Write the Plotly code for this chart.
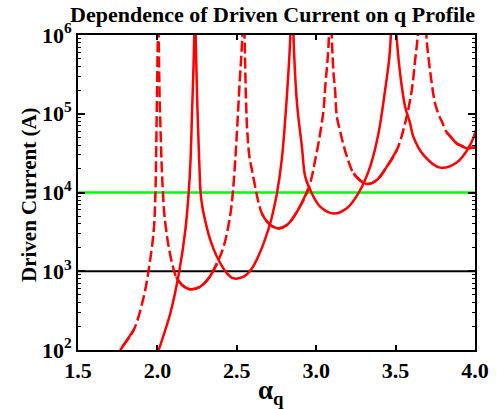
import math
import plotly.graph_objects as go

# ---------------- data ----------------
# dashed family (resonances near 2.0, 2.54, 3.09, 3.67)
d0_alpha = [1.740, 1.767, 1.851, 1.914, 1.945, 1.977, 1.987, 1.993, 1.998, 2.002, 2.005]
d0_curr = [75, 100, 180, 475, 1040, 3300, 9000, 4.0e4, 2.0e5, 8.0e5, 3e6]

d1_alpha = [2.007, 2.010, 2.014, 2.020, 2.027, 2.035, 2.045, 2.071, 2.103, 2.118, 2.155, 2.208,
            2.270, 2.323, 2.375, 2.417, 2.459, 2.475, 2.488, 2.499, 2.518, 2.533, 2.541]
d1_curr = [2e6, 5e5, 1.6e5, 6e4, 2.2e4, 1.0e4, 5.0e3, 2050, 1040, 850, 670, 590,
           637, 813, 1260, 2050, 5200, 1.0e4, 2.2e4, 5.0e4, 2.5e5, 8.0e5, 3e6]

d2_alpha = [2.544, 2.551, 2.558, 2.566, 2.580, 2.596, 2.620, 2.638, 2.658, 2.685, 2.711, 2.763,
            2.816, 2.879, 2.952, 2.994, 3.025, 3.046, 3.057, 3.077, 3.086]
d2_curr = [3e6, 6e5, 1.5e5, 6e4, 2.8e4, 1.9e4, 1.07e4, 7.3e3, 5.4e3, 4.4e3, 3.86e3, 3.5e3,
           3.86e3, 5.7e3, 1.13e4, 2.6e4, 5.65e4, 1.1e5, 2.2e5, 7e5, 3e6]

d3_alpha = [3.092, 3.099, 3.109, 3.119, 3.130, 3.151, 3.172, 3.200, 3.235, 3.297, 3.329, 3.382,
            3.445, 3.508, 3.560, 3.602, 3.623, 3.637, 3.650]
d3_curr = [3e6, 8.6e5, 3.3e5, 2.0e5, 9.2e4, 6.0e4, 4.0e4, 2.6e4, 1.75e4, 1.33e4, 1.28e4, 1.44e4,
           2.13e4, 3.47e4, 7.6e4, 2.0e5, 4.8e5, 8.6e5, 3e6]

d4_alpha = [3.683, 3.696, 3.728, 3.748, 3.769, 3.792, 3.822, 3.843, 3.885, 3.906, 3.948, 3.969, 4.011]
d4_curr = [3e6, 8.6e5, 2.4e5, 1.37e5, 1.0e5, 7.9e4, 5.8e4, 5.2e4, 4.2e4, 4.0e4, 3.64e4, 3.67e4, 3.75e4]

# solid family (resonances near 2.235, 2.847, 3.485)
s0_alpha = [1.990, 2.008, 2.082, 2.138, 2.176, 2.197, 2.208, 2.218, 2.228, 2.234, 2.237]
s0_curr = [78, 100, 295, 1006, 3340, 9.9e3, 2.37e4, 1.02e5, 4.4e5, 1.5e6, 5e6]

s1_alpha = [2.239, 2.246, 2.252, 2.259, 2.266, 2.272, 2.281, 2.302, 2.333, 2.375, 2.438, 2.480,
            2.543, 2.596, 2.648, 2.711, 2.731, 2.753, 2.784, 2.805, 2.826, 2.837, 2.845]
s1_curr = [1.5e6, 3.5e5, 1.2e5, 4.5e4, 1.8e4, 1.0e4, 7.0e3, 4.3e3, 2.5e3, 1.53e3, 942, 813,
           853, 1090, 1770, 4.1e3, 6.0e3, 9.8e3, 2.7e4, 8.5e4, 3.6e5, 9.5e5, 4e6]

s2_alpha = [2.850, 2.857, 2.879, 2.910, 2.931, 2.962, 3.025, 3.109, 3.193, 3.266, 3.340, 3.392,
            3.434, 3.461, 3.472, 3.480]
s2_curr = [5e6, 9.5e5, 1.36e5, 3.8e4, 1.59e4, 1.08e4, 6.6e3, 5.4e3, 6.3e3, 9.8e3, 2.13e4, 5.6e4,
           2.0e5, 5.3e5, 1.2e6, 5e6]

s3_alpha = [3.490, 3.498, 3.508, 3.528, 3.560, 3.591, 3.612, 3.675, 3.780, 3.885, 3.969, 4.011]
s3_curr = [5e6, 1.8e6, 8.6e5, 3.3e5, 1.23e5, 7.6e4, 5.1e4, 3.0e4, 2.07e4, 2.4e4, 4.0e4, 6.6e4]

# reference levels
level_values = [1e4, 1e3]
level_colors = ['#00ff00', '#000000']

x_ticks = [1.5, 2.0, 2.5, 3.0, 3.5, 4.0]
x_tick_labels = ['1.5', '2.0', '2.5', '3.0', '3.5', '4.0']
y_ticks = [1e2, 1e3, 1e4, 1e5, 1e6]
y_tick_labels = ['10<sup>2</sup>', '10<sup>3</sup>', '10<sup>4</sup>', '10<sup>5</sup>', '10<sup>6</sup>']

# ---------------- figure ----------------
FONT = 'Liberation Serif, Times New Roman, serif'
RED = '#ff0000'
X0, X1 = 1.5, 4.0
W, H = 504, 409
L, R, T, B = 78, 29, 35, 59
PX_PER_X = (W - L - R) / 2.5
PX_PER_DEC = (H - T - B) / 4.0
STEEP = 2.2
LW = 2.5

fig = go.Figure()

for val, col in zip(level_values, level_colors):
    fig.add_trace(go.Scatter(x=[X0, X1], y=[val, val], mode='lines',
                             line=dict(color=col, width=2.5 if col != '#000000' else 2),
                             showlegend=False, hoverinfo='skip'))


def add_line(a, c, dash='solid'):
    fig.add_trace(go.Scatter(x=a, y=c, mode='lines',
                             line=dict(color=RED, width=LW, shape='spline', smoothing=1.0, dash=dash),
                             showlegend=False, hoverinfo='skip'))


def add_dashed(a, c):
    # full dashed path, then solid overlay where the curve is flat
    # (in the reference the dashed curves look solid on their flat parts)
    add_line(a, c, dash='11px,4px')
    n = len(a)
    flat = []
    for k in range(n - 1):
        dx = abs(a[k + 1] - a[k]) * PX_PER_X
        dy = abs(math.log10(c[k + 1]) - math.log10(c[k])) * PX_PER_DEC
        flat.append(dy <= STEEP * dx)
    k = 0
    while k < n - 1:
        if flat[k]:
            j = k
            while j < n - 1 and flat[j]:
                j += 1
            add_line(a[k:j + 1], c[k:j + 1])
            k = j
        else:
            k += 1


for a, c in [(s0_alpha, s0_curr), (s1_alpha, s1_curr), (s2_alpha, s2_curr), (s3_alpha, s3_curr)]:
    add_line(a, c)
for a, c in [(d0_alpha, d0_curr), (d1_alpha, d1_curr), (d2_alpha, d2_curr),
             (d3_alpha, d3_curr), (d4_alpha, d4_curr)]:
    add_dashed(a, c)

pw, ph = W - L - R, H - T - B
fig.update_layout(
    width=W, height=H,
    margin=dict(l=L, r=R, t=T, b=B, autoexpand=False),
    paper_bgcolor='white', plot_bgcolor='white',
    font=dict(family=FONT, color='black'),
    hovermode=False,
    title=dict(text='<b>Dependence of Driven Current on q Profile</b>',
               font=dict(family=FONT, size=22, color='black'),
               x=272.5 / W, xanchor='center', y=1 - 14 / H, yanchor='middle'),
    xaxis=dict(range=[X0, X1], tickvals=x_ticks, ticktext=x_tick_labels,
               ticks='inside', ticklen=5, tickwidth=2, tickcolor='black',
               showline=True, linewidth=2, linecolor='black', mirror='ticks',
               showgrid=False, zeroline=False, automargin=False,
               tickfont=dict(family=FONT, size=22, color='black', weight='bold')),
    yaxis=dict(type='log', range=[2, 6], tickvals=y_ticks, ticktext=y_tick_labels,
               ticks='inside', ticklen=7, tickwidth=2, tickcolor='black',
               minor=dict(ticks='inside', ticklen=3, tickwidth=1, tickcolor='black',
                          dtick='D1', showgrid=False),
               showline=True, linewidth=2, linecolor='black', mirror='ticks',
               showgrid=False, zeroline=False, automargin=False,
               tickfont=dict(family=FONT, size=22, color='black', weight='bold')),
    annotations=[
        dict(text='<b>α<sub>q</sub></b>', xref='paper', yref='paper',
             x=(271 - L) / pw, y=(H - B - 392) / ph, xanchor='center', yanchor='middle',
             showarrow=False, font=dict(family=FONT, size=27, color='black')),
        dict(text='<b>Driven Current (A)</b>', xref='paper', yref='paper', textangle=-90,
             x=(29 - L) / pw, y=(H - B - 195) / ph, xanchor='center', yanchor='middle',
             showarrow=False, font=dict(family=FONT, size=21, color='black')),
    ],
)

fig.write_html('out.html',
               config={'displayModeBar': False, 'staticPlot': True},
               post_script="document.body.style.margin='0';document.body.style.padding='0';")
